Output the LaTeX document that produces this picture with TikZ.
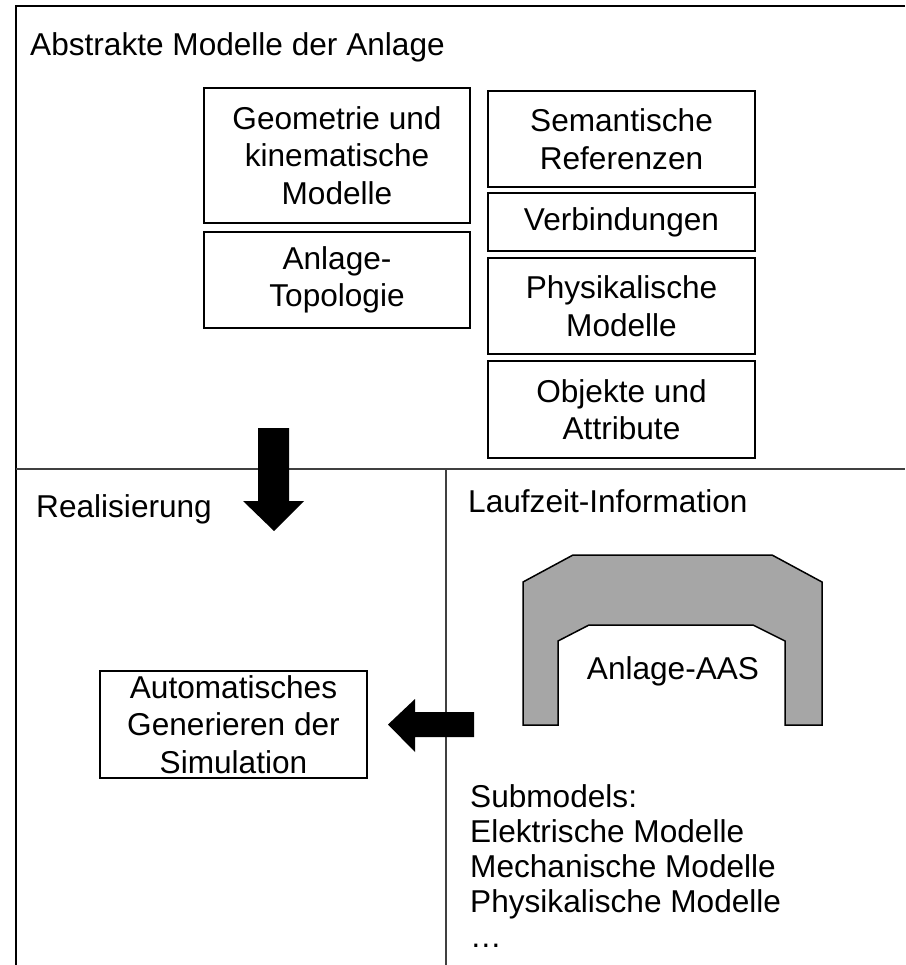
\documentclass[tikz,border=0pt]{standalone}
\usepackage{fontspec}
\setmainfont{Liberation Sans}
\begin{document}
\begin{tikzpicture}[x=1pt,y=-1pt,
  box/.style={draw, line width=1.5pt, align=center, inner sep=0pt,
    font=\fontsize{31.6}{37.5}\selectfont},
  lbl/.style={anchor=base west, inner sep=0pt, align=left,
    font=\fontsize{31.6}{35}\selectfont},
  frameline/.style={line width=2pt},
  divider/.style={line width=1.1pt, draw=black!75},
  blockarrow/.style={fill=black, draw=none},
  aas/.style={fill=black!35, draw=black, line width=1.5pt, line join=miter},
]
\useasboundingbox (0,0) rectangle (905,965);

% outer frame and section dividers
\draw[frameline] (16,965) -- (16,6) -- (905,6);
\draw[divider] (16,469) -- (905,469);
\draw[divider] (446,469) -- (446,965);

% section titles
\node[lbl] (tabstrakt) at (30,56) {Abstrakte Modelle der Anlage};
\node[lbl] (treal) at (36,517) {Realisierung};
\node[lbl] (tlauf) at (468,512) {Laufzeit-Information};

% abstract plant models
\node[box, minimum width=266pt, minimum height=135pt] (geo) at (337,155.5)
  {Geometrie und\\kinematische\\Modelle};
\node[box, minimum width=266pt, minimum height=96pt] (topo) at (337,280)
  {Anlage-\\Topologie};
\node[box, minimum width=267pt, minimum height=96pt] (sem) at (621.5,139)
  {Semantische\\Referenzen};
\node[box, minimum width=267pt, minimum height=58pt] (verb) at (621.5,222)
  {Verbindungen};
\node[box, minimum width=267pt, minimum height=96pt] (phys) at (621.5,306)
  {Physikalische\\Modelle};
\node[box, minimum width=267pt, minimum height=97pt] (obj) at (621.5,409.5)
  {Objekte und\\Attribute};

% realisation
\node[box, minimum width=267pt, minimum height=107pt] (auto) at (233.5,724.5)
  {Automatisches\\Generieren der\\Simulation};

% block arrows
\fill[blockarrow] (258,428) -- (289,428) -- (289,501) -- (304,501)
  -- (274,531) -- (243,501) -- (258,501) -- cycle;
\fill[blockarrow] (474,712) -- (474,737) -- (415,737) -- (415,752)
  -- (388,724.5) -- (415,699) -- (415,712) -- cycle;

% asset administration shell
\filldraw[aas] (523,582) -- (573,555) -- (772,555) -- (822,582) -- (822,725)
  -- (785,725) -- (785,641) -- (753,625) -- (589,625) -- (558,641)
  -- (558,725) -- (523,725) -- cycle;
\node[inner sep=0pt, font=\fontsize{31.6}{35}\selectfont] (aasname) at (673,671) {Anlage-AAS};

% submodel list (base anchor sits on the last line)
\node[lbl] (sub) at (470,947)
  {Submodels:\\Elektrische Modelle\\Mechanische Modelle\\Physikalische Modelle\\\ldots};
\end{tikzpicture}
\end{document}
